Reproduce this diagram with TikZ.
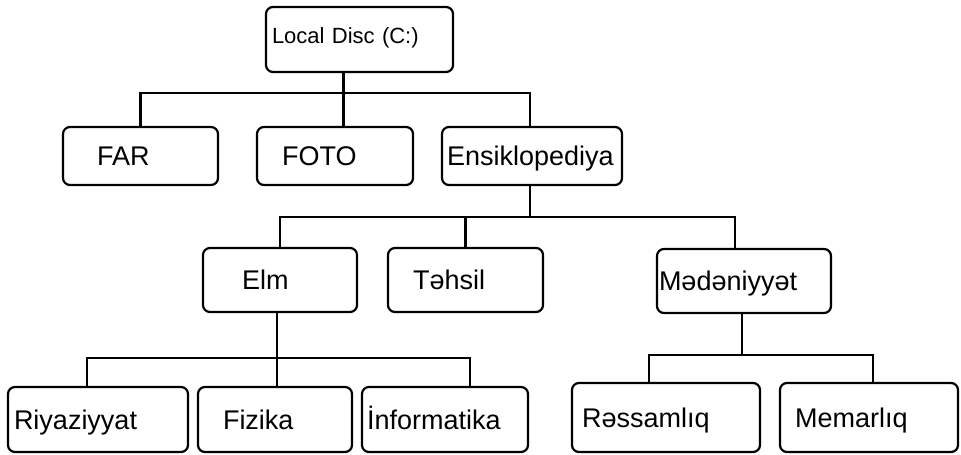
\documentclass[tikz,border=0pt]{standalone}
\usepackage{fontspec}
\setmainfont{Liberation Sans}
\hyphenpenalty=10000
\tikzset{
  folder/.style={draw, rounded corners=7pt, line width=2.2pt, align=left,
    inner ysep=0pt, text height=19.3pt, text depth=0pt,
    font=\fontsize{27pt}{32pt}\selectfont}
}
\begin{document}
\begin{tikzpicture}[x=1pt,y=-1pt,line width=2.2pt]
      \useasboundingbox (0,0) rectangle (961,455);

      \begin{scope}[every node/.style={folder}]
        \node[minimum width=187pt, minimum height=65pt, text width=175pt, inner xsep=6pt,
              text height=15pt, text depth=7pt, font=\fontsize{22pt}{26pt}\selectfont]
                 (1)  at (359.5,39.5) {Local Disc (C:)};
        \node[minimum width=155pt, minimum height=58pt, text width=87pt,  inner xsep=34pt] (2)  at (140.5,156) {FAR};
        \node[minimum width=156pt, minimum height=58pt, text width=106pt, inner xsep=25pt] (3)  at (335,156)   {FOTO};
        \node[minimum width=180pt, minimum height=58pt, text width=170pt, inner xsep=5pt]  (4)  at (532,156)   {Ensiklopediya};
        \node[minimum width=154pt, minimum height=64pt, text width=76pt,  inner xsep=39pt] (5)  at (280,280)   {Elm};
        \node[minimum width=155pt, minimum height=64pt, text width=105pt, inner xsep=25pt] (6)  at (465.5,280) {Təhsil};
        \node[minimum width=174pt, minimum height=64pt, text width=170pt, inner xsep=2pt]  (7)  at (744,281)   {Mədəniyyət};
        \node[minimum width=180pt, minimum height=65pt, text width=168pt, inner xsep=6pt]  (8)  at (98,419.5)  {Riyaziyyat};
        \node[minimum width=154pt, minimum height=65pt, text width=104pt, inner xsep=25pt] (9)  at (275,419.5) {Fizika};
        \node[minimum width=166pt, minimum height=65pt, text width=156pt, inner xsep=5pt]  (10) at (445,419.5) {İnformatika};
        \node[minimum width=188pt, minimum height=69pt, text width=168pt, inner xsep=10pt] (11) at (666,417.5) {Rəssamlıq};
        \node[minimum width=178pt, minimum height=69pt, text width=148pt, inner xsep=15pt] (12) at (869,417.5) {Memarlıq};
      \end{scope}

      % bar heights
      \coordinate (b1) at (0,93);
      \coordinate (b2) at (0,217);
      \coordinate (b3) at (0,358);
      \coordinate (b4) at (0,355);

      \draw ([xshift=-16pt]1.south) -- ([xshift=-16pt]1.south |- 3.north);
      \draw (2.north) -- (2.north |- b1) -- ([xshift=-2pt]4.north |- b1) -- ([xshift=-2pt]4.north);

      \draw ([xshift=-2pt]4.south) -- ([xshift=-2pt]4.south |- b2);
      \draw (5.north) -- (5.north |- b2) -- ([xshift=-9pt]7.north |- b2) -- ([xshift=-9pt]7.north);
      \draw (6.north) -- (6.north |- b2);

      \draw ([xshift=-3pt]5.south) -- ([xshift=-3pt]5.south |- 9.north);
      \draw ([xshift=-11pt]8.north) -- ([xshift=-11pt]8.north |- b3) -- ([xshift=25pt]10.north |- b3) -- ([xshift=25pt]10.north);

      \draw ([xshift=-2pt]7.south) -- ([xshift=-2pt]7.south |- b4);
      \draw ([xshift=-17pt]11.north) -- ([xshift=-17pt]11.north |- b4) -- ([xshift=4pt]12.north |- b4) -- ([xshift=4pt]12.north);

    \end{tikzpicture}
\end{document}
